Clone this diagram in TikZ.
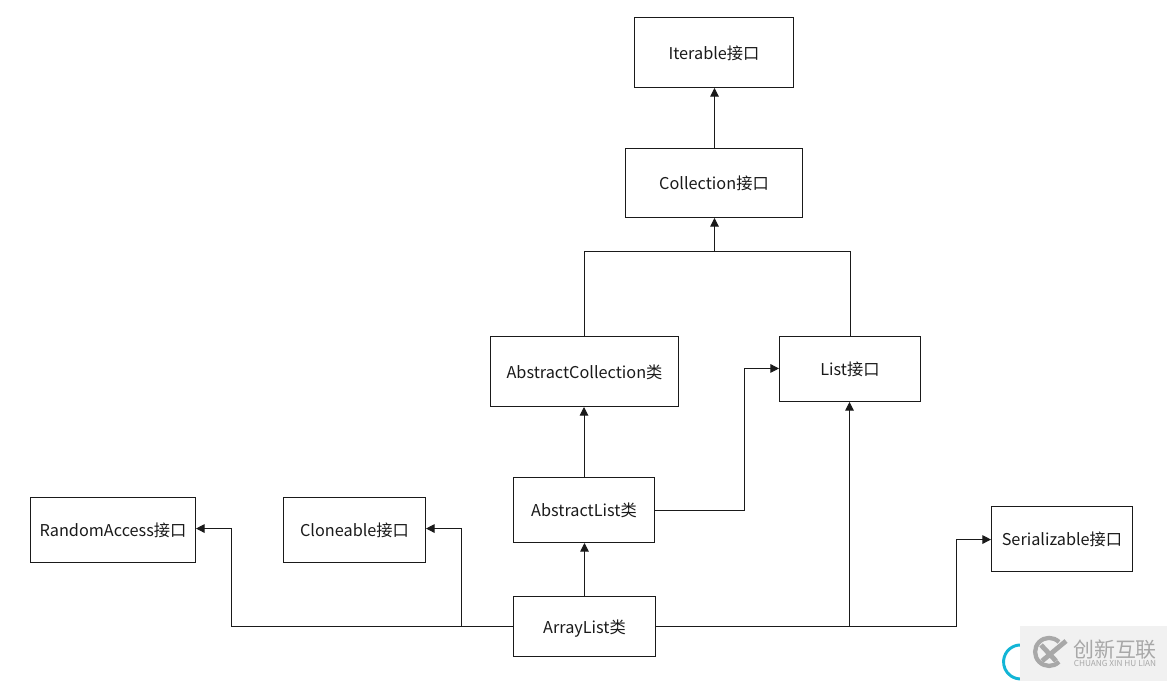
\documentclass[tikz,border=0pt]{standalone}
\usepackage{xcolor}
\usepackage{fontspec}
\setmainfont{Noto Sans CJK SC}
\usepackage{tikz}
\usetikzlibrary{arrows.meta}
\definecolor{linecol}{HTML}{1A1A1A}
\definecolor{markcol}{HTML}{A8A8A8}
\definecolor{markback}{HTML}{F1F1F1}
\definecolor{ringcol}{HTML}{12B5D6}
\tikzset{
  classbox/.style={draw=linecol,line width=0.75pt,inner sep=0pt,text=linecol,font=\fontsize{12.2pt}{14pt}\selectfont,text depth=0pt,yshift=-0.5pt},
  link/.style={draw=linecol,line width=0.75pt,-{Triangle[length=6.5pt,width=6.5pt]}},
  plainlink/.style={draw=linecol,line width=0.75pt}
}
\begin{document}
\begin{tikzpicture}[x=0.75pt,y=-0.75pt]
\useasboundingbox (0,0) rectangle (1167,681);
  \begin{scope}[yshift=0.5pt]
  \node[classbox,minimum width=119.25pt,minimum height=52.5pt] (iterable) at (714,52.5) {Iterable接口};
  \node[classbox,minimum width=132.75pt,minimum height=51.75pt] (collection) at (714,183) {Collection接口};
  \node[classbox,minimum width=141pt,minimum height=52.5pt] (abstractcollection) at (584.5,371.5) {AbstractCollection类};
  \node[classbox,minimum width=105.75pt,minimum height=48.75pt] (list) at (850,369) {List接口};
  \node[classbox,minimum width=105.75pt,minimum height=48.75pt] (abstractlist) at (584,510) {AbstractList类};
  \node[classbox,minimum width=106.5pt,minimum height=45pt] (arraylist) at (584.5,626.5) {ArrayList类};
  \node[classbox,minimum width=123.75pt,minimum height=48.75pt] (randomaccess) at (113,530) {RandomAccess接口};
  \node[classbox,minimum width=106.5pt,minimum height=48.75pt] (cloneable) at (354.5,530) {Cloneable接口};
  \node[classbox,minimum width=105.75pt,minimum height=48.75pt] (serializable) at (1062,539) {Serializable接口};
  \end{scope}
  \coordinate (joinup) at (714.5,251.5);
  \coordinate (cloneturn) at (461.5,626.5);
  \coordinate (randomturn) at (231.5,626.5);
  \coordinate (listturn) at (849.5,626.5);
  \coordinate (serialturn) at (956.5,626.5);
  \coordinate (abstractturn) at (744.5,510.5);
  \coordinate (listtop) at (850.5,251.5);
  \draw[link] (joinup |- collection.north) -- (joinup |- iterable.south);
  \draw[link] (abstractcollection.north) |- (joinup) -- (joinup |- collection.south);
  \draw[plainlink] (listtop |- list.north) -- (listtop) -- (joinup);
  \draw[link] (abstractlist.north) -- (abstractcollection.south -| abstractlist.north);
  \draw[link] (abstractlist.east |- abstractturn) -- (abstractturn) |- ([yshift=0.4pt]list.west);
  \draw[link] (arraylist.north) -- (abstractlist.south -| arraylist.north);
  \draw[link] (arraylist.west |- randomturn) -- (randomturn) |- ([yshift=1.1pt]randomaccess.east);
  \draw[link] (cloneturn) |- ([yshift=1.1pt]cloneable.east);
  \draw[link] (arraylist.east |- listturn) -- (listturn) -- (listturn |- list.south);
  \draw[link] (listturn) -- (serialturn) |- ([yshift=-0.4pt]serializable.west);
  % corner mark
  \draw[ringcol,line width=2.2pt] (1022,645) arc (-85:-275:17);
  \fill[markback] (1020,626) rectangle (1167,681);
  \draw[markcol,line width=3.2pt] (1059,642) arc (-45:-315:14);
  \draw[markcol,line width=3.6pt] (1041,645) -- (1056,661) (1042,661) -- (1066,641);
  \node[font=\fontsize{15.7pt}{16pt}\selectfont,text=markcol,inner sep=0pt] (marktext) at (1115,650) {创新互联};
  \node[font=\fontsize{6.2pt}{7pt}\selectfont,text=markcol,inner sep=0pt] (marksub) at (1115,663.5) {CHUANG XIN HU LIAN};
\end{tikzpicture}
\end{document}
